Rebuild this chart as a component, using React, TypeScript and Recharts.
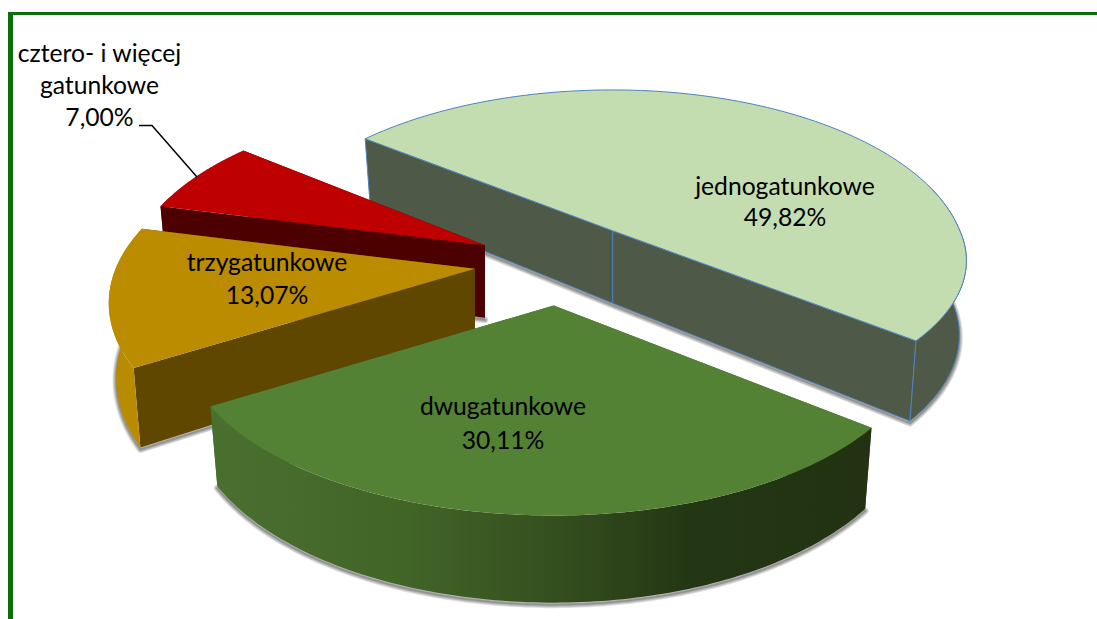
import React from "react";
import { PieChart, Pie } from "recharts";

// Data (drawing order: back slices first, front slice last)
const sliceNames = ["jednogatunkowe", "cztero- i więcej gatunkowe", "trzygatunkowe", "dwugatunkowe"];
const sliceValues = [49.82, 7.0, 13.07, 30.11];
const labelLines = [["jednogatunkowe"], ["cztero- i więcej", "gatunkowe"], ["trzygatunkowe"], ["dwugatunkowe"]];

// Styles
const topColors = ["#C3DDB0", "#BE0000", "#BB8C00", "#548235"];
const faceColors = ["#4F5947", "#4C0000", "#5F4700", "#3F6327"];
const wallFills = ["#4F5947", "#4C0000", "#B98B00", "url(#wallB)"];
const outlines = ["#4F81BD", "none", "none", "none"];
const labelX = [785, 99.5, 267, 503];
const labelY = [195, 62, 271, 415];
const lineGap = [31, 32, 32.5, 33.5];
const FONT = "Lato, Carlito, 'Noto Sans', sans-serif";

const data = sliceNames.map((name, i) => ({ name, value: sliceValues[i] }));

// 3D projection parameters
const TILT = 0.48; // vertical squash of the disc
const PERSP = 0.192; // perspective strength
const EXPLODE = 0.243; // explosion, share of the radius
const THICK = 72.5; // extrusion in pixels
const BX = 0.98; // bottom plane horizontal scale
const BY = 1.07; // bottom plane vertical scale
// Small per-slice view corrections of the 3D camera
const radiusScale = [1.015, 1.005, 1.012, 1.0];
const rightScale = [0.993, 1, 1, 0.99];
const nearScale = [0.895, 1, 1, 0.97];
const twistStart = [1.4, 0, 0, 0.7];
const twistEnd = [-1.5, 0, 1.8, 0.7];
const nudgeX = [0, 0.5, 0, -2];
const nudgeY = [-2, -0.5, -2, -1];
const shadowWidths = [7, 5, 3, 1.5];

const path = (pts: number[][]) =>
  pts.map((p, i) => `${i ? "L" : "M"}${p[0].toFixed(2)},${p[1].toFixed(2)}`).join(" ") + " Z";

function Slice3D(props: any) {
  const { cx, cy, outerRadius: R, startAngle, endAngle, index } = props;
  const i = index ?? sliceNames.indexOf(props.name);
  const a0 = (-startAngle * Math.PI) / 180;
  const a1 = (-endAngle * Math.PI) / 180;
  const mid = (a0 + a1) / 2;
  const Ry = R * TILT;
  const vA = EXPLODE * Math.sin(mid);
  const s = 0.995 + 0.13 * vA;
  const ax = cx + EXPLODE * s * R * Math.cos(mid) + nudgeX[i];
  const ay = cy + EXPLODE * s * Ry * Math.sin(mid) + nudgeY[i];
  const off = (t: number) => {
    const u = Math.cos(t);
    const v = Math.sin(t);
    const w = 1 - PERSP * v;
    const xs = u > 0 ? rightScale[i] : 1;
    const ys = v > 0 ? nearScale[i] : 1;
    return [(s * radiusScale[i] * xs * R * u) / w, (s * radiusScale[i] * ys * Ry * v) / w];
  };
  const top = (d: number[]) => [ax + d[0], ay + d[1]];
  const bot = (d: number[]) => [ax + BX * d[0], ay + THICK + BY * d[1]];
  const steps = 120;
  const ts: number[] = [];
  const t0 = a0 + (twistStart[i] * Math.PI) / 180;
  const t1 = a1 + (twistEnd[i] * Math.PI) / 180;
  for (let k = 0; k <= steps; k++) ts.push(t0 + ((t1 - t0) * k) / steps);
  const arc = ts.map(off);
  const wallTs = ts.filter((t) => Math.sin(t) > -0.3);
  const wallTop = wallTs.map((t) => top(off(t)));
  const wallBot = wallTs.map((t) => bot(off(t)));
  const apexTop = [ax, ay];
  const apexBot = [ax, ay + THICK];
  const topArc = arc.map(top);
  const botArc = arc.map(bot);
  const stroke = outlines[i];
  const sw = stroke === "none" ? 0 : 1;
  const first = arc[0];
  const last = arc[arc.length - 1];
  const cap = path([apexBot, ...botArc]);
  return (
    <g>
      <defs>
        <linearGradient id="wallB" gradientUnits="userSpaceOnUse" x1="210" y1="0" x2="875" y2="0">
          <stop offset="0" stopColor="#4A7030" />
          <stop offset="0.3" stopColor="#416427" />
          <stop offset="0.5" stopColor="#365120" />
          <stop offset="0.72" stopColor="#243714" />
          <stop offset="1" stopColor="#223212" />
        </linearGradient>
      </defs>
      <g transform="translate(0,2)">
        {shadowWidths.map((w) => (
          <path
            key={w}
            d={cap}
            fill="none"
            stroke="#000000"
            strokeOpacity={0.13}
            strokeWidth={w}
            strokeLinejoin="round"
          />
        ))}
      </g>
      <path
        d={path([apexTop, top(first), bot(first), apexBot])}
        fill={faceColors[i]}
        stroke={stroke}
        strokeWidth={sw}
      />
      <path
        d={path([apexTop, top(last), bot(last), apexBot])}
        fill={faceColors[i]}
        stroke={stroke}
        strokeWidth={sw}
      />
      {wallTs.length > 1 && (
        <path d={path([...wallTop, ...[...wallBot].reverse()])} fill={wallFills[i]} stroke={stroke} strokeWidth={sw} />
      )}
      <path d={path([apexTop, ...topArc])} fill={topColors[i]} stroke={stroke} strokeWidth={sw} />
    </g>
  );
}

function SliceLabel(props: any) {
  const { index, value } = props;
  const lines = [...labelLines[index], `${Number(value).toFixed(2).replace(".", ",")}%`];
  return (
    <g>
      {index === 1 && (
        <polyline points="139,125.6 152,125.6 197,177" fill="none" stroke="#000000" strokeWidth={1.5} />
      )}
      <text textAnchor="middle" fontFamily={FONT} fontSize={24.7} fill="#000000">
        {lines.map((line, k) => (
          <tspan key={k} x={labelX[index]} y={labelY[index] + k * lineGap[index]}>
            {line}
          </tspan>
        ))}
      </text>
    </g>
  );
}

export default function App() {
  return (
    <div style={{ position: "absolute", left: 0, top: 0, width: 1097, height: 619, background: "#FFFFFF", overflow: "hidden" }}>
      <div
        style={{
          position: "absolute",
          left: 8,
          top: 12,
          right: 0,
          bottom: 0,
          borderTop: "3px solid #0B6E0B",
          borderLeft: "5px solid #0B6E0B",
        }}
      />
      <div style={{ position: "absolute", left: 0, top: 0 }}>
        <PieChart width={1097} height={619} margin={{ top: 0, right: 0, bottom: 0, left: 0 }}>
          <Pie
            data={data}
            dataKey="value"
            nameKey="name"
            cx={560}
            cy={264}
            innerRadius={0}
            outerRadius={355}
            startAngle={-398.6}
            endAngle={-38.6}
            isAnimationActive={false}
            shape={Slice3D}
            label={SliceLabel}
            labelLine={false}
          />
        </PieChart>
      </div>
    </div>
  );
}
